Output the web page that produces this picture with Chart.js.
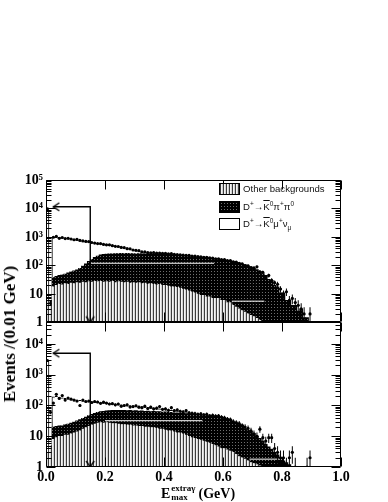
<!DOCTYPE html>
<html><head><meta charset="utf-8">
<script src="https://cdn.jsdelivr.net/npm/chart.js@4.4.1/dist/chart.umd.min.js"></script>
<style>
html,body{margin:0;padding:0;background:#fff;}
#wrap{position:relative;width:388px;height:502px;overflow:hidden;}
#c{position:absolute;left:0;top:0;}
.ser{font-family:'Liberation Serif','Times New Roman',serif;font-weight:bold;color:#000;}
#ytitle{position:absolute;left:10px;top:334px;transform:translate(-50%,-50%) rotate(-90deg);white-space:nowrap;font-size:17px;}
#xtitle{position:absolute;left:161px;top:484px;white-space:nowrap;font-size:14px;display:flex;align-items:center;line-height:15px;}
#xtitle .ss{display:flex;flex-direction:column;font-size:9px;line-height:9px;margin:0 3px 0 1px;}
#legend{position:absolute;left:219px;top:183px;font-family:'Liberation Sans',Arial,sans-serif;font-size:9.6px;color:#111;}
.row{position:relative;height:17.5px;}
.sw{position:absolute;left:0;top:0;width:21px;height:12px;box-sizing:border-box;border:1px solid #000;background:#fff;}
.lt{position:absolute;left:24px;top:0px;white-space:nowrap;line-height:12px;}
.lt sup,.lt sub{font-size:6.5px;line-height:0;}
.ov{text-decoration:overline;}
</style></head>
<body>
<div id="wrap">
<canvas id="c" width="388" height="502"></canvas>
<div id="legend">
  <div class="row"><div class="sw" id="swOther"></div><div class="lt">Other backgrounds</div></div>
  <div class="row"><div class="sw" id="swKpp"></div><div class="lt">D<sup>+</sup>→<span class="ov">K</span><sup>0</sup>π<sup>+</sup>π<sup>0</sup></div></div>
  <div class="row"><div class="sw" id="swKmn"></div><div class="lt">D<sup>+</sup>→<span class="ov">K</span><sup>0</sup>μ<sup>+</sup>ν<sub>μ</sub></div></div>
</div>
<div id="ytitle" class="ser">Events /(0.01 GeV)</div>
<div id="xtitle" class="ser"><span>E</span><span class="ss"><span>extraγ</span><span>max</span></span><span>(GeV)</span></div>
</div>
<script>
// ---------- data (bins of 0.01 GeV from 0.00 to 1.00) ----------
const binCenters = Array.from({length: 100}, (_, i) => Math.round((i + 0.5) * 10) / 1000);

// panel (a)
const otherA = [6,4,18,20,22,21,23,22,24,23, 25,24,26,25,27,26,28,27,28,26, 27,26,28,25,27,26,25,26,24,25,
  24,25,23,24,22,23,22,21,22,20, 20,19,18,18,17,16,15,14,13,12, 11,10,9,9,8,8,7,7,7,6,
  6,5,5,4,3.5,3,2.6,2.3,2,1.8, 1.6,1.4,1.2,0,0,0,0,0,0,0, 0,0,0,0,0,0,0,0,0,0, 0,0,0,0,0,0,0,0,0,0];
const kpipiA = [0,2,20,22,23,26,27,33,36,42, 45,56,69,90,113,139,167,188,207,219, 223,229,230,237,233,239,237,239,236,237,
  234,235,233,234,233,229,233,229,226,230, 225,223,222,218,215,214,210,208,205,203, 199,195,191,187,182,178,173,168,163,159,
  154,147,140,134,126,119,109,103,93,86, 78,71,61,52,45,33,30,20,18,11, 11,6,6,4,4,2.5,3,1.5,1.5,0, 0,0,0,0,0,0,0,0,0,0];
const kmunuA = [9000,0,962,978,935,903,870,835,800,765, 730,690,645,595,540,485,425,385,345,315, 290,265,242,218,200,175,158,135,120,98,
  77,58,49,35,28,23,15,14,10,8, 7,5,5,4,3,3,2,2,2,1.5, 1,1,1,0.8,0.8,0.6,0.5,0.5,0.4,0.4,
  0.3,0.3,0.3,0.2,0.2,0.2,0.2,0.1,0.1,0.1, 0,0,0,0,0,0,0,0,0,0, 0,0,0,0,0,0,0,0,0,0, 0,0,0,0,0,0,0,0,0,0];
const dataA = [9800,0,980,1050,900,960,880,900,850,800, 820,760,730,700,690,640,610,590,590,550, 530,530,495,470,465,430,425,390,385,350,
  340,330,300,300,285,280,285,270,275,265, 268,258,260,248,240,238,232,225,225,212, 215,205,202,195,195,185,182,172,172,160,
  162,150,148,135,132,120,115,100,98,85, 82,90,60,58,40,45,30,25,22,15, 10,12,6,7,5,4,3,2,0,2, 0,0,0,0,0,0,0,0,0,0];

// panel (b)
const otherB = [3,5,8,9,10,10,11,11,12,13, 14,15,17,19,21,23,25,27,28,27, 28,27,26,26,25,24,24,23,23,22,
  22,21,21,20,20,19,19,18,17,17, 16,15,15,14,13,13,12,11,10,9, 8.5,8,7.5,7,6.5,6,5.5,5,4.5,4,
  4,3.6,3.3,3,2.6,2.2,2,1.8,1.6,1.4, 1.3,1.2,1.1,0,0,0,0,0,0,0, 0,0,0,0,0,0,0,0,0,0, 0,0,0,0,0,0,0,0,0,0];
const kpipiB = [0,0,12,12,12,12,13,14,15,16, 18,20,21,23,26,29,31,33,35,38, 39,41,43,44,45,45,46,45,46,45,
  46,45,46,45,46,45,46,45,46,44, 46,45,45,44,45,43,44,44,44,44, 43,43,42,42,41,41,40,40,39,38,
  36,33,31,26,24,22,21,16,14,13, 11,9,7.5,7,5.5,4.5,3.8,3,2.5,2, 1.6,1.4,1.2,0,0,0,0,0,0,0, 0,0,0,0,0,0,0,0,0,0];
const kmunuB = [2800,0,170,179,163,156,148,141,133,126, 118,111,104,96,88,80,73,66,60,56, 51,48,44,41,38,37,33,32,29,29,
  26,26,23,23,20,20,17,17,15,15, 12,12,10,10,8,7,6,5,4,3, 3,2.5,2.2,2,1.8,1.6,1.4,1.2,1,1,
  0.8,0.7,0.6,0.5,0.4,0.3,0.3,0.2,0.2,0.1, 0,0,0,0,0,0,0,0,0,0, 0,0,0,0,0,0,0,0,0,0, 0,0,0,0,0,0,0,0,0,0];
const dataB = [2900,60,120,230,170,210,150,175,160,150, 140,100,150,135,140,125,135,130,118,128, 120,112,115,105,112,95,100,105,90,92,
  98,88,85,95,80,88,78,82,92,75, 78,70,85,68,72,65,62,68,58,56, 55,52,54,50,52,46,48,45,46,42,
  40,36,35,30,28,26,22,20,18,15, 12,10,17,9,7,9,9,4,3,2, 2,1,2,3,1,0,0,0,1,2, 0,0,0,0,0,0,0,0,0,0];

// cut arrow (E < 0.15 GeV) and faint white guide lines
const cutX = 0.15, arrowTipX = 0.025, arrowTopA = 11500, arrowTopB = 5000;
const whiteLineA = [{x:0.15,y:120},{x:0.57,y:120},{x:0.60,y:null},{x:0.63,y:5.6},{x:0.74,y:5.6}];
const whiteLineB = [{x:0.20,y:32},{x:0.53,y:32},{x:0.60,y:null},{x:0.69,y:1.8},{x:0.80,y:1.8}];

// axes
const yTickValues = [1, 10, 100, 1000, 10000, 100000];
const yTickLabels = ['1', '10', '10²', '10³', '10⁴', '10⁵'];
const xTickValues = [0, 0.2, 0.4, 0.6, 0.8, 1.0];
const xTickLabels = ['0.0', '0.2', '0.4', '0.6', '0.8', '1.0'];
const seriesNames = ['Other backgrounds', 'D+→K0π+π0', 'D+→K0μ+νμ', 'Data'];

// ---------- styles ----------
function makePattern(w, h, fill) {
  const c = document.createElement('canvas'); c.width = w; c.height = h;
  const g = c.getContext('2d'); fill(g); return c;
}
const hatchCanvas = makePattern(3, 1, g => { g.fillStyle = '#3c3c3c'; g.fillRect(0,0,1,1); g.fillStyle = '#f4f4f4'; g.fillRect(1,0,1,1); g.fillStyle = '#d2d2d2'; g.fillRect(2,0,1,1); });
const dotCanvas = makePattern(3, 3, g => { g.fillStyle = '#000'; g.fillRect(0,0,3,3); g.fillStyle = '#6e6e6e'; g.fillRect(1,1,1,1); });
const ctx0 = document.getElementById('c').getContext('2d');
const hatchPat = ctx0.createPattern(hatchCanvas, 'repeat');
const dotPat = ctx0.createPattern(dotCanvas, 'repeat');
document.getElementById('swOther').style.background = 'url(' + hatchCanvas.toDataURL() + ')';
document.getElementById('swKpp').style.background = 'url(' + dotCanvas.toDataURL() + ')';

function chevron(dir) {
  const c = document.createElement('canvas'); c.width = 14; c.height = 14;
  const g = c.getContext('2d'); g.strokeStyle = '#000'; g.lineWidth = 1.4; g.beginPath();
  if (dir === 'left') { g.moveTo(13, 3); g.lineTo(7, 7); g.lineTo(13, 11); }
  else { g.moveTo(3, 1); g.lineTo(7, 7); g.lineTo(11, 1); }
  g.stroke(); return c;
}
const arrowLeft = chevron('left'), arrowDown = chevron('down');

// ---------- datasets ----------
const xy = arr => arr.map((v, i) => ({x: binCenters[i], y: v}));
function barSet(label, arr, axis, bg, border, bw) {
  return {type: 'bar', label, data: xy(arr), yAxisID: axis, stack: 's', backgroundColor: bg,
    borderColor: border, borderWidth: bw, borderSkipped: false, barPercentage: 1, categoryPercentage: 1, order: 10};
}
const topBorder = c => (c.dataIndex === 0 ? {top:1,left:1,right:1,bottom:0} : (c.dataIndex === 2 ? {top:1,left:1,right:0,bottom:0} : {top:1,left:0,right:0,bottom:0}));
function pointsSet(arr, axis) {
  return {type: 'line', label: seriesNames[3], data: arr.map((v, i) => ({x: binCenters[i], y: v > 0 ? v : null})),
    yAxisID: axis, showLine: false, pointRadius: 1.6, pointBackgroundColor: '#000', pointBorderWidth: 0, order: 0};
}
function errSet(arr, axis) {
  return {type: 'bar', label: 'err', data: arr.map((v, i) => ({x: binCenters[i], y: v > 0 ? [Math.max(v - Math.sqrt(v), 1), v + Math.sqrt(v)] : null})),
    yAxisID: axis, grouped: false, barThickness: 1, inflateAmount: 0, backgroundColor: '#000', order: 1};
}
function arrowSet(top, axis) {
  return {type: 'line', label: 'cut', data: [{x: cutX, y: 1}, {x: cutX, y: top}, {x: arrowTipX, y: top}], yAxisID: axis,
    borderColor: '#000', borderWidth: 1.4, pointStyle: [arrowDown, 'circle', arrowLeft], pointRadius: [5, 0, 5], order: 2};
}
function whiteSet(pts, axis) {
  return {type: 'line', label: 'guide', data: pts, yAxisID: axis, borderColor: '#fff', borderWidth: 1, pointRadius: 0, spanGaps: false, order: 3};
}

const datasets = [
  pointsSet(dataA, 'ya'), errSet(dataA, 'ya'), arrowSet(arrowTopA, 'ya'), whiteSet(whiteLineA, 'ya'),
  pointsSet(dataB, 'yb'), errSet(dataB, 'yb'), arrowSet(arrowTopB, 'yb'), whiteSet(whiteLineB, 'yb'),
  barSet(seriesNames[0], otherA, 'ya', hatchPat, '#000', 0),
  barSet(seriesNames[1], kpipiA, 'ya', dotPat, '#000', 0),
  barSet(seriesNames[2], kmunuA, 'ya', '#fff', '#000', topBorder),
  barSet(seriesNames[0], otherB, 'yb', hatchPat, '#000', 0),
  barSet(seriesNames[1], kpipiB, 'yb', dotPat, '#000', 0),
  barSet(seriesNames[2], kmunuB, 'yb', '#fff', '#000', topBorder)
];

// ---------- frame + inner ticks (ROOT style) ----------
const frameTicks = {
  id: 'frameTicks',
  afterDatasetsDraw(chart) {
    const g = chart.ctx, xs = chart.scales.x;
    const l = Math.round(chart.chartArea.left) + 0.5, r = Math.round(chart.chartArea.right) - 0.5;
    g.save(); g.strokeStyle = '#000'; g.lineWidth = 1;
    for (const id of ['ya', 'yb']) {
      const s = chart.scales[id];
      const t = Math.round(s.top) + 0.5, b = Math.round(s.bottom) - 0.5;
      g.beginPath(); g.rect(l, t, r - l, b - t); g.stroke();
      g.beginPath();
      for (let d = 1; d <= s.max; d *= 10) {
        for (let k = 1; k <= 9; k++) {
          const v = d * k; if (v < s.min || v > s.max) continue;
          const y = Math.round(s.getPixelForValue(v)) + 0.5, len = k === 1 ? 9 : 5;
          g.moveTo(l, y); g.lineTo(l + len, y); g.moveTo(r, y); g.lineTo(r - len, y);
        }
      }
      for (const v of xTickValues) {
        const x = Math.round(xs.getPixelForValue(v)) + 0.5;
        g.moveTo(x, t); g.lineTo(x, t + 9); g.moveTo(x, b); g.lineTo(x, b - 9);
      }
      g.stroke();
    }
    g.restore();
  }
};

const tickFont = {family: "'Liberation Serif', 'Times New Roman', serif", size: 14, weight: 'bold'};
function yScale(max, weight, stackWeight) {
  return {
    type: 'logarithmic', position: 'left', stack: 'panels', stackWeight, weight, min: 1, max,
    grid: {display: false, drawTicks: false}, border: {display: false},
    afterBuildTicks: s => { s.ticks = yTickValues.filter(v => v <= max).map(v => ({value: v})); },
    ticks: {autoSkip: false, padding: 3, color: '#000', font: tickFont,
      callback: (v) => yTickLabels[yTickValues.indexOf(v)]},
    afterFit: s => { s.width = 40; }
  };
}

new Chart(document.getElementById('c'), {
  data: {datasets},
  options: {
    responsive: false, animation: false, events: [],
    layout: {padding: {top: 180, left: 6, right: 47, bottom: 5}},
    plugins: {legend: {display: false}, tooltip: {enabled: false}},
    scales: {
      x: {type: 'linear', position: 'bottom', min: 0, max: 1, offset: false,
        grid: {display: false, drawTicks: false, offset: false}, border: {display: false},
        afterBuildTicks: s => { s.ticks = xTickValues.map(v => ({value: v})); },
        ticks: {autoSkip: false, maxRotation: 0, padding: 2, color: '#000', font: tickFont,
          callback: (v, i) => xTickLabels[i]},
        afterFit: s => { s.height = 30; }},
      ya: yScale(100000, 2, 142),
      yb: yScale(50000, 1, 144)
    }
  },
  plugins: [frameTicks]
});
</script>
</body></html>
